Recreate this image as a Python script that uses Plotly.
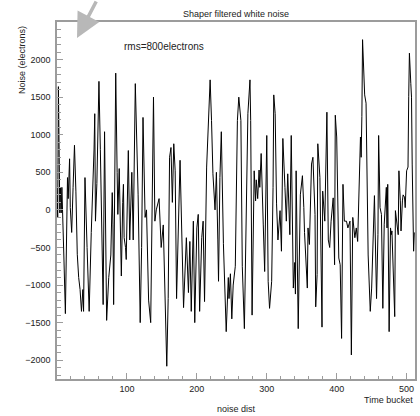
import plotly.graph_objects as go

# Time bucket positions of the turning points
bucket = [0, 1, 2, 3, 4, 5, 6, 7, 8, 10, 12, 14, 15, 16, 18, 19, 21, 23, 25, 27, 29, 31, 33, 35, 37, 38, 39, 40,
          43, 46, 49, 51, 53, 54, 55, 57, 60, 62, 64, 66, 68, 70, 71, 74, 77, 79, 80, 81, 84, 86, 87, 89, 91, 92,
          94, 95, 96, 98, 99, 101, 102, 104, 107, 109, 112, 116, 119, 121, 123, 126, 128, 131, 134, 138, 140,
          142, 146, 149, 152, 157, 159, 161, 163, 165, 167, 169, 171, 176, 178, 181, 185, 188, 190, 192, 195,
          197, 200, 202, 204, 207, 209, 211, 214, 219, 221, 223, 226, 228, 230, 231, 233, 235, 238, 242, 245,
          246, 248, 250, 252, 255, 258, 260, 263, 265, 268, 271, 273, 276, 277, 279, 282, 284, 285, 287, 289,
          290, 292, 295, 297, 300, 302, 304, 307, 309, 310, 312, 314, 316, 319, 321, 323, 326, 328, 330, 333,
          335, 338, 340, 341, 342, 345, 348, 351, 353, 354, 358, 359, 361, 364, 366, 369, 370, 372, 373, 376,
          379, 380, 383, 386, 388, 390, 392, 395, 397, 398, 400, 403, 405, 407, 409, 411, 414, 416, 419, 421,
          423, 426, 428, 430, 434, 435, 436, 437, 440, 442, 445, 448, 450, 452, 454, 457, 459, 460, 462, 464,
          466, 468, 471, 472, 473, 475, 477, 478, 479, 483, 484, 488, 489, 491, 492, 494, 495, 497, 498, 500,
          502, 503, 504, 506, 507, 508, 509, 510, 511]

# Noise (electrons) at those buckets
noise = [300, -100, 1640, 350, -40, 300, -40, 300, -150, -680, -1380, 0, 430, 150, 680, 30, -300, 300, 860, 250,
         -590, -900, -1060, -1350, -1060, -1350, -260, 430, -500, -1350, -300, 200, 810, 1280, -150, 350, 1710,
         800, -200, -1260, 1040, -300, -1470, -900, -600, 230, -200, -1260, 1820, 500, -60, 550, -200, -880, 100,
         340, -370, -500, -660, 400, 790, -400, 500, -400, 1680, 200, -1500, -500, 1230, -100, 0, -1200, -1500,
         1500, -150, 0, 150, -500, -200, -2080, -1180, 700, 830, 100, 880, 520, -1180, 660, -150, -1300, -370,
         -1100, -420, -1350, -150, -1500, -240, -60, -1350, -370, -150, -1220, 570, 1730, 1190, 480, 0, 500, -400,
         -950, 430, 1040, -450, -1620, -900, -1180, -850, -1450, -1000, -750, 1190, 1500, 1190, -750, -1580, 80,
         1280, 1730, 1190, -1400, 520, 120, 400, 150, 530, 300, 750, -200, -820, 990, -950, -1310, -950, 300, 1530,
         1280, 80, -400, -10, -550, 950, 300, -150, 480, -330, 990, -1040, -700, -1120, 520, -1580, 200, 455, 30,
         -300, -1040, -240, -460, 610, 700, -60, -1290, -860, 880, 430, -1560, 250, -150, 1300, -400, -500, -150,
         160, -730, 1260, 970, -640, -730, -1710, 340, -150, -150, -240, -150, -1930, -100, -370, -240, -420, 970,
         700, 1240, 2265, 1530, 1420, -600, -1350, -1040, -330, 190, -1180, -330, 990, 30, -60, -1310, -190, 300,
         -240, 340, -1620, -240, -330, -280, -1420, -10, -330, 520, 120, -280, 120, 200, 170, 30, 520, 570, 1505,
         2085, 1684, 1500, 610, 30, -550, -300]

x_ticks = [100, 200, 300, 400, 500]
y_ticks = [-2000, -1500, -1000, -500, 0, 500, 1000, 1500, 2000]

FONT = "Liberation Sans"
GRAY = "#9c9c9c"

fig = go.Figure(go.Scatter(x=bucket, y=noise, mode="lines",
                           line=dict(color="black", width=1), hoverinfo="skip"))

L, R, T, B = 57, 415, 22, 379
W, H = 420, 416

def px(x):
    return (x - L) / (R - L)

def py(y):
    return (B - y) / (B - T)

fig.update_layout(
    template="none",
    width=W, height=H,
    margin=dict(l=L, r=W - R, t=T, b=H - B, pad=0, autoexpand=False),
    paper_bgcolor="white", plot_bgcolor="white",
    showlegend=False,
    font=dict(family=FONT, size=9, color="#222"),
    xaxis=dict(range=[0, 512], tickvals=x_ticks, ticks="inside", ticklen=6, tickcolor=GRAY,
               tickwidth=1, showline=True, linecolor=GRAY, linewidth=1.5, mirror=True,
               showgrid=False, zeroline=False, automargin=False, tickfont=dict(size=9, color="#222"),
               minor=dict(dtick=20, ticks="inside", ticklen=3, tickcolor=GRAY, showgrid=False)),
    yaxis=dict(range=[-2250, 2500], tickvals=y_ticks, ticks="inside", ticklen=6, tickcolor=GRAY,
               tickwidth=1, showline=True, linecolor=GRAY, linewidth=1.5, mirror=True,
               showgrid=False, zeroline=False, automargin=False, tickfont=dict(size=9, color="#222"),
               ticklabelstandoff=3,
               minor=dict(dtick=100, ticks="inside", ticklen=4, tickcolor=GRAY, showgrid=False)),
)

ann = [
    dict(text="Shaper filtered white noise", x=0.5, y=py(14), xref="paper", yref="paper",
         showarrow=False, xanchor="center", yanchor="middle", font=dict(size=9)),
    dict(text="rms=800electrons", x=px(122), y=py(47), xref="paper", yref="paper",
         showarrow=False, xanchor="left", yanchor="middle", font=dict(size=10)),
    dict(text="Time bucket", x=1.0, y=py(400), xref="paper", yref="paper",
         showarrow=False, xanchor="right", yanchor="middle", font=dict(size=9)),
    dict(text="noise dist", x=0.5, y=py(409), xref="paper", yref="paper",
         showarrow=False, xanchor="center", yanchor="middle", font=dict(size=9)),
    dict(text="Noise (electrons)", x=px(22), y=py(60), xref="paper", yref="paper",
         showarrow=False, xanchor="center", yanchor="middle", textangle=-90, font=dict(size=9)),
    dict(text="", x=px(77), y=py(38), xref="paper", yref="paper", showarrow=True,
         ax=20, ay=-42, arrowhead=2, arrowsize=1.4, arrowwidth=3.5, arrowcolor="#b8b8b8"),
]
fig.update_layout(annotations=ann)

fig.write_html("out.html", config={"displayModeBar": False},
               post_script="document.body.style.margin='0';")
